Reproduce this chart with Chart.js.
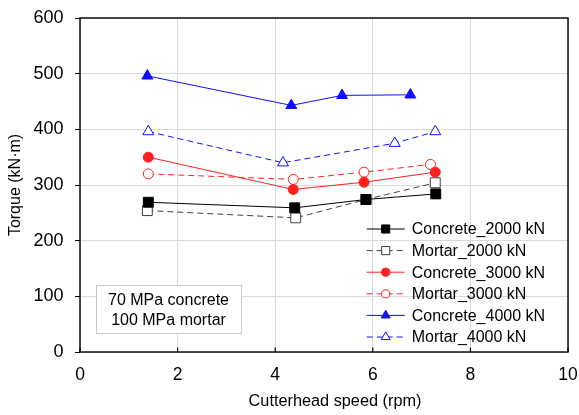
<!DOCTYPE html>
<html><head><meta charset="utf-8">
<script src="https://cdn.jsdelivr.net/npm/chart.js@4/dist/chart.umd.min.js"></script>
<style>html,body{margin:0;padding:0;background:#fff}#wrap{width:579px;height:415px;position:relative}</style>
</head><body><div id="wrap"><canvas id="c" width="579" height="415"></canvas></div>
<script>
const xTicks = [0, 2, 4, 6, 8, 10];
const yTicks = [0, 100, 200, 300, 400, 500, 600];
const seriesNames = ['Concrete_2000 kN', 'Mortar_2000 kN', 'Concrete_3000 kN', 'Mortar_3000 kN', 'Concrete_4000 kN', 'Mortar_4000 kN'];
const concrete2000X = [1.40, 4.40, 5.86, 7.29];
const concrete2000Y = [269, 259, 274, 284];
const mortar2000X = [1.38, 4.42, 5.86, 7.28];
const mortar2000Y = [254, 241, 274, 304];
const concrete3000X = [1.40, 4.37, 5.82, 7.28];
const concrete3000Y = [350, 292, 305, 323];
const mortar3000X = [1.40, 4.37, 5.82, 7.18];
const mortar3000Y = [320, 310, 323, 337];
const concrete4000X = [1.38, 4.33, 5.37, 6.77];
const concrete4000Y = [496, 443, 461, 462];
const mortar4000X = [1.40, 4.16, 6.45, 7.28];
const mortar4000Y = [396, 340, 375, 396];
const noteLines = ['70 MPa concrete', '100 MPa mortar'];
const xTitle = 'Cutterhead speed (rpm)';
const yTitle = 'Torque (kN\u00b7m)';

const FONT = '"Liberation Sans", Arial, sans-serif';
const pts = (xs, ys) => xs.map((x, i) => ({x: x, y: ys[i]}));

function mk(name, xs, ys, color, dash, style, filled, radius) {
  return {
    label: name, data: pts(xs, ys), showLine: true,
    borderColor: color, borderWidth: 1, borderDash: dash,
    pointStyle: style, pointRadius: radius, pointHoverRadius: radius,
    pointBackgroundColor: filled ? color : '#ffffff',
    pointBorderColor: color, pointBorderWidth: 1
  };
}
const datasets = [
  mk(seriesNames[0], concrete2000X, concrete2000Y, '#000000', [], 'rect', true, 7),
  mk(seriesNames[1], mortar2000X, mortar2000Y, '#404040', [6, 4], 'rect', false, 7),
  mk(seriesNames[2], concrete3000X, concrete3000Y, '#ff2020', [], 'circle', true, 5),
  mk(seriesNames[3], mortar3000X, mortar3000Y, '#ff2020', [6, 4], 'circle', false, 5),
  mk(seriesNames[4], concrete4000X, concrete4000Y, '#1010ff', [], 'triangle', true, 6.3),
  mk(seriesNames[5], mortar4000X, mortar4000Y, '#1010ff', [6, 4], 'triangle', false, 6.3)
];

const notePlugin = {
  id: 'noteBox',
  beforeDatasetsDraw(chart) {
    const ctx = chart.ctx, a = chart.chartArea;
    const x = a.left + 16, y = a.bottom - 67, w = 145, h = 48;
    ctx.save();
    ctx.fillStyle = '#ffffff';
    ctx.fillRect(x, y, w, h);
    ctx.strokeStyle = '#c8c8c8'; ctx.lineWidth = 1;
    ctx.strokeRect(Math.round(x) + 0.5, Math.round(y) + 0.5, w, h);
    ctx.fillStyle = '#000'; ctx.font = '16px ' + FONT;
    ctx.textAlign = 'center'; ctx.textBaseline = 'middle';
    noteLines.forEach((t, i) => ctx.fillText(t, x + w / 2, y + 15.5 + i * 20));
    ctx.restore();
  }
};

const framePlugin = {
  id: 'frame',
  afterDraw(chart) {
    const ctx = chart.ctx, a = chart.chartArea;
    const xs = chart.scales.x;
    ctx.save();
    ctx.strokeStyle = '#000'; ctx.lineWidth = 1.4;
    ctx.strokeRect(a.left, a.top, a.right - a.left, a.bottom - a.top);
    ctx.lineWidth = 1.2;
    xTicks.forEach(v => {
      const px = xs.getPixelForValue(v);
      ctx.beginPath(); ctx.moveTo(px, a.bottom); ctx.lineTo(px, a.bottom - 4.5); ctx.stroke();
    });
    // x axis title
    ctx.fillStyle = '#000'; ctx.font = '16.3px ' + FONT;
    ctx.textAlign = 'center'; ctx.textBaseline = 'middle';
    ctx.fillText(xTitle, (a.left + a.right) / 2 + 11, a.bottom + 50);
    // legend
    const lx = a.left + 286.7, ly = a.top + 211, dy = 21.6;
    chart.data.datasets.forEach((ds, i) => {
      const y = ly + i * dy;
      ctx.strokeStyle = ds.borderColor; ctx.lineWidth = ds.borderWidth;
      ctx.setLineDash(ds.borderDash || []);
      ctx.beginPath(); ctx.moveTo(lx, y); ctx.lineTo(lx + 38, y); ctx.stroke();
      ctx.setLineDash([]);
      ctx.fillStyle = ds.pointBackgroundColor; ctx.strokeStyle = ds.pointBorderColor; ctx.lineWidth = 1;
      Chart.helpers.drawPoint(ctx, {pointStyle: ds.pointStyle, rotation: 0, radius: ds.pointRadius * 0.82, borderWidth: 1}, lx + 19, y);
      ctx.fillStyle = '#000'; ctx.font = '16px ' + FONT;
      ctx.textAlign = 'left'; ctx.textBaseline = 'middle';
      ctx.fillText(ds.label, lx + 45, y + 1);
    });
    ctx.restore();
  }
};

new Chart(document.getElementById('c'), {
  type: 'scatter',
  data: {datasets: datasets},
  plugins: [notePlugin, framePlugin],
  options: {
    responsive: false, animation: false, devicePixelRatio: 1,
    layout: {padding: {top: 18, right: 11, left: 0, bottom: 0}},
    plugins: {legend: {display: false}, tooltip: {enabled: false}},
    scales: {
      x: {
        type: 'linear', min: 0, max: 10,
        afterBuildTicks: s => { s.ticks = xTicks.map(v => ({value: v})); },
        afterFit: s => { s.height = 63; s.paddingLeft = 0; s.paddingRight = 0; s.paddingTop = 0; s.paddingBottom = 0; },
        grid: {color: '#d9d9d9', lineWidth: 1, drawTicks: false},
        border: {display: false},
        ticks: {padding: 13, color: '#000', font: {family: FONT, size: 17.5}, maxRotation: 0},
        title: {display: false}
      },
      y: {
        type: 'linear', min: 0, max: 600,
        afterBuildTicks: s => { s.ticks = yTicks.map(v => ({value: v})); },
        afterFit: s => { s.width = 80; s.paddingLeft = 0; s.paddingRight = 0; s.paddingTop = 0; s.paddingBottom = 0; },
        grid: {color: '#d9d9d9', lineWidth: 1, drawTicks: true, tickLength: 5, tickColor: '#000'},
        border: {display: false},
        ticks: {padding: 11.5, color: '#000', font: {family: FONT, size: 18}},
        title: {display: true, text: yTitle, color: '#000', font: {family: FONT, size: 16}, padding: {top: 6, bottom: 4}}
      }
    }
  }
});
</script></body></html>
